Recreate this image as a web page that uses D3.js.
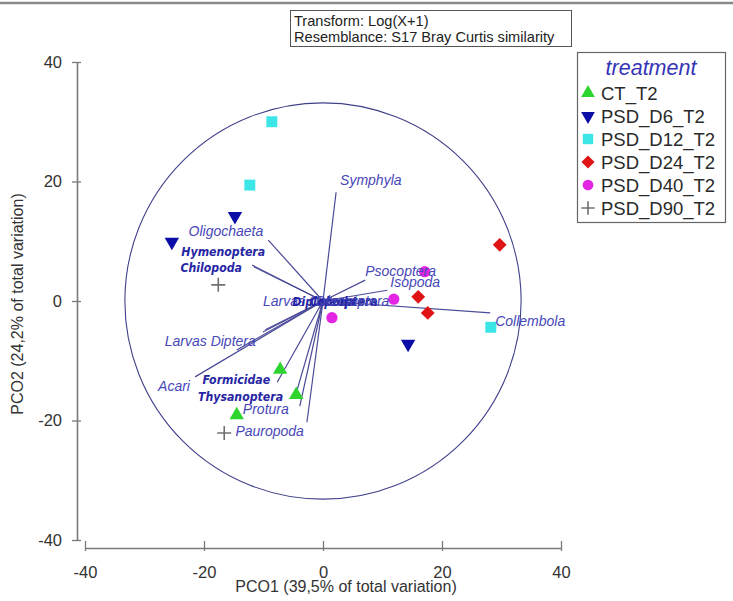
<!DOCTYPE html>
<html>
<head>
<meta charset="utf-8">
<script src="https://cdn.jsdelivr.net/npm/d3@7"></script>
<style>
  body { margin: 0; background: #fff; }
  svg { display: block; font-family: "Liberation Sans", Arial, sans-serif; }
</style>
</head>
<body>
<svg id="chart" width="733" height="601"></svg>
<script>
// ---- data ----
const groups = ["CT_T2", "PSD_D6_T2", "PSD_D12_T2", "PSD_D24_T2", "PSD_D40_T2", "PSD_D90_T2"];
const sampleGroup = [
  "CT_T2", "CT_T2", "CT_T2",
  "PSD_D6_T2", "PSD_D6_T2", "PSD_D6_T2",
  "PSD_D12_T2", "PSD_D12_T2", "PSD_D12_T2",
  "PSD_D24_T2", "PSD_D24_T2", "PSD_D24_T2",
  "PSD_D40_T2", "PSD_D40_T2", "PSD_D40_T2",
  "PSD_D90_T2", "PSD_D90_T2"
];
const pco1 = [-7.2, -4.5, -14.5,  -14.8, -25.4, 14.3,  -8.6, -12.3, 28.2,  29.7, 16.0, 17.6,  17.1, 11.9, 1.5,  -17.6, -16.6];
const pco2 = [-11.5, -15.7, -19.1,  14.2, 9.9, -7.2,  30.0, 19.4, -4.4,  9.4, 0.7, -2.0,  4.9, 0.3, -2.8,  2.7, -22.1];

// correlation vectors of taxa (end points in PCO units)
const vectorNames = [
  "Symphyla", "Oligochaeta", "Hymenoptera", "Chilopoda", "Psocoptera", "Isopoda",
  "Collembola", "Larvas Coleoptera", "Diplopoda", "Coleoptera", "Dermaptera",
  "Larvas Diptera", "Acari", "Formicidae", "Thysanoptera", "Protura", "Pauropoda"
];
const vectorX = [2.2, -9.2, -11.9, -11.6, 7.1, 10.8, 28.1, -10.1, -9.7, 1.5, -0.6, -14.5, -21.5, -7.7, -4.7, -3.9, -2.7];
const vectorY = [18.2, 10.2, 6.0, 5.7, 3.5, 1.8, -2.0, -5.2, -4.8, 0.6, -1.2, -8.2, -12.7, -13.6, -16.1, -17.6, -20.3];

const tickValues = [-40, -20, 0, 20, 40];
const circleRadius = 33.3;   // unit correlation circle, in PCO units
const xTitle = "PCO1 (39,5% of total variation)";
const yTitle = "PCO2 (24,2% of total variation)";
const infoLines = ["Transform: Log(X+1)", "Resemblance: S17 Bray Curtis similarity"];
const legendTitle = "treatment";

// ---- label placement for vector names: [dx, dy, anchor, bold] ----
const labelLayout = {
  "Symphyla":          [4, -7, "start", false],
  "Oligochaeta":       [-5, -4, "end", false],
  "Hymenoptera":       [13, -9, "end", true],
  "Chilopoda":         [-12, 5, "end", true],
  "Psocoptera":        [0, -4, "start", false],
  "Isopoda":           [3, -3, "start", false],
  "Collembola":        [5, 13, "start", false],
  "Larvas Coleoptera": [0, -26, "start", false],
  "Diplopoda":         [27, -24, "start", true],
  "Coleoptera":        [-22, 9, "start", true],
  "Dermaptera":        [-4, -2, "start", false],
  "Larvas Diptera":    [-72, -4, "start", false],
  "Acari":             [-37, 14, "start", false],
  "Formicidae":        [-7, 2, "end", true],
  "Thysanoptera":      [-12, 4, "end", true],
  "Protura":           [-11, 8, "end", false],
  "Pauropoda":         [-3, 14, "end", false]
};

// ---- styles ----
const groupStyle = {
  "CT_T2":      { shape: "triangle", color: "#2fd52f" },
  "PSD_D6_T2":  { shape: "triangleDown", color: "#0c0ca6" },
  "PSD_D12_T2": { shape: "square", color: "#3ce6e6" },
  "PSD_D24_T2": { shape: "diamond", color: "#e01414" },
  "PSD_D40_T2": { shape: "circle", color: "#e425e4" },
  "PSD_D90_T2": { shape: "plus", color: "#707070" }
};

const svg = d3.select("#chart");

const x = d3.scaleLinear().domain([-40, 40]).range([85, 561]);
const y = d3.scaleLinear().domain([-40, 40]).range([540, 62]);

// top rule
svg.append("line")
  .attr("x1", 0).attr("x2", 733).attr("y1", 3).attr("y2", 3)
  .attr("stroke", "#8a8a8a").attr("stroke-width", 2.5);

// info box
const info = svg.append("g");
info.append("rect")
  .attr("x", 290.5).attr("y", 10.5).attr("width", 281).attr("height", 36)
  .attr("fill", "#fff").attr("stroke", "#555").attr("stroke-width", 1);
info.selectAll("text").data(infoLines).join("text")
  .attr("x", 294).attr("y", (d, i) => 26 + i * 16)
  .attr("font-size", 14.6).attr("fill", "#222")
  .text(d => d);

// ---- axes ----
const axisColor = "#7a7a7a";
const tickFmt = d => String(d);
const yAxis = svg.append("g")
  .attr("transform", "translate(77,0)")
  .call(d3.axisLeft(y).tickValues(tickValues).tickSizeOuter(0).tickSizeInner(5).tickPadding(10).tickFormat(tickFmt));
const xAxis = svg.append("g")
  .attr("transform", "translate(0,548)")
  .call(d3.axisBottom(x).tickValues(tickValues).tickSizeOuter(0).tickSizeInner(5).tickPadding(13).tickFormat(tickFmt));

[yAxis, xAxis].forEach(g => {
  g.select(".domain").attr("stroke", axisColor).attr("stroke-width", 1.6);
  g.selectAll(".tick line").attr("stroke", axisColor).attr("stroke-width", 1.3);
  g.selectAll(".tick text").attr("font-size", 16.5).attr("fill", "#333")
    .attr("font-family", "Liberation Sans, Arial, sans-serif");
});
yAxis.selectAll(".tick line").attr("x1", -5).attr("x2", 4);
xAxis.selectAll(".tick line").attr("y1", -7).attr("y2", 3);

svg.append("text")
  .attr("x", 346).attr("y", 592)
  .attr("text-anchor", "middle").attr("font-size", 16).attr("fill", "#333")
  .text(xTitle);
svg.append("text")
  .attr("transform", `translate(23,${y(0) + 3}) rotate(-90)`)
  .attr("text-anchor", "middle").attr("font-size", 16).attr("fill", "#333")
  .text(yTitle);

// ---- correlation circle and vectors ----
const plot = svg.append("g");
plot.append("circle")
  .attr("cx", x(0)).attr("cy", y(0))
  .attr("r", x(circleRadius) - x(0))
  .attr("fill", "none").attr("stroke", "#40408a").attr("stroke-width", 1.1);

const vectors = vectorNames.map((name, i) => ({ name, vx: vectorX[i], vy: vectorY[i] }));

plot.selectAll("line.vec").data(vectors).join("line")
  .attr("class", "vec")
  .attr("x1", x(0)).attr("y1", y(0))
  .attr("x2", d => x(d.vx)).attr("y2", d => y(d.vy))
  .attr("stroke", "#4a4a98").attr("stroke-width", 1.2);

// ---- samples ----
const symbolGen = {
  triangle: d3.symbol().type(d3.symbolTriangle),
  triangleDown: d3.symbol().type(d3.symbolTriangle),
  square: d3.symbol().type(d3.symbolSquare),
  diamond: d3.symbol().type(d3.symbolSquare),
  circle: d3.symbol().type(d3.symbolCircle)
};
const symbolSize = { triangle: 90, triangleDown: 90, square: 120, diamond: 95, circle: 100 };
const symbolRotate = { triangle: 0, triangleDown: 180, square: 0, diamond: 45, circle: 0 };

function drawMarker(sel, shape, color, scale) {
  if (shape === "plus") {
    const h = 7 * scale;
    sel.append("path")
      .attr("d", `M${-h},0H${h}M0,${-h}V${h}`)
      .attr("stroke", color).attr("stroke-width", 1.6).attr("fill", "none");
  } else {
    sel.append("path")
      .attr("d", symbolGen[shape].size(symbolSize[shape] * scale * scale)())
      .attr("transform", `rotate(${symbolRotate[shape]})`)
      .attr("fill", color);
  }
}

const samples = pco1.map((v, i) => ({ g: sampleGroup[i], px: v, py: pco2[i] }));
const sampleG = plot.selectAll("g.sample").data(samples).join("g")
  .attr("class", "sample")
  .attr("transform", d => `translate(${x(d.px)},${y(d.py)})`);
sampleG.each(function (d) {
  const st = groupStyle[d.g];
  drawMarker(d3.select(this), st.shape, st.color, 1);
});

// ---- vector labels ----
plot.selectAll("text.vlab").data(vectors).join("text")
  .attr("class", "vlab")
  .attr("x", d => x(d.vx) + labelLayout[d.name][0])
  .attr("y", d => y(d.vy) + labelLayout[d.name][1])
  .attr("text-anchor", d => labelLayout[d.name][2])
  .attr("font-style", "italic")
  .attr("font-weight", d => labelLayout[d.name][3] ? "bold" : "normal")
  .attr("font-family", d => labelLayout[d.name][3] ? "DejaVu Sans Condensed, DejaVu Sans, sans-serif" : "Liberation Sans, Arial, sans-serif")
  .attr("font-size", d => labelLayout[d.name][3] ? 12.2 : 14)
  .attr("fill", d => labelLayout[d.name][3] ? "#2626a4" : "#4848b8")
  .text(d => d.name);

// ---- legend ----
const legend = svg.append("g");
legend.append("rect")
  .attr("x", 577.5).attr("y", 52.5).attr("width", 148).attr("height", 170)
  .attr("fill", "#fff").attr("stroke", "#666").attr("stroke-width", 1.2);
legend.append("text")
  .attr("x", 651).attr("y", 75).attr("text-anchor", "middle")
  .attr("font-size", 21.5).attr("font-style", "italic").attr("fill", "#3535b5")
  .text(legendTitle);
const items = legend.selectAll("g.item").data(groups).join("g")
  .attr("class", "item")
  .attr("transform", (d, i) => `translate(588,${93 + i * 23})`);
items.each(function (d) {
  const st = groupStyle[d];
  drawMarker(d3.select(this), st.shape, st.color, 0.95);
});
items.append("text")
  .attr("x", 13).attr("y", 6.5)
  .attr("font-size", 18.5).attr("fill", "#2a2a2a")
  .text(d => d);
</script>
</body>
</html>
